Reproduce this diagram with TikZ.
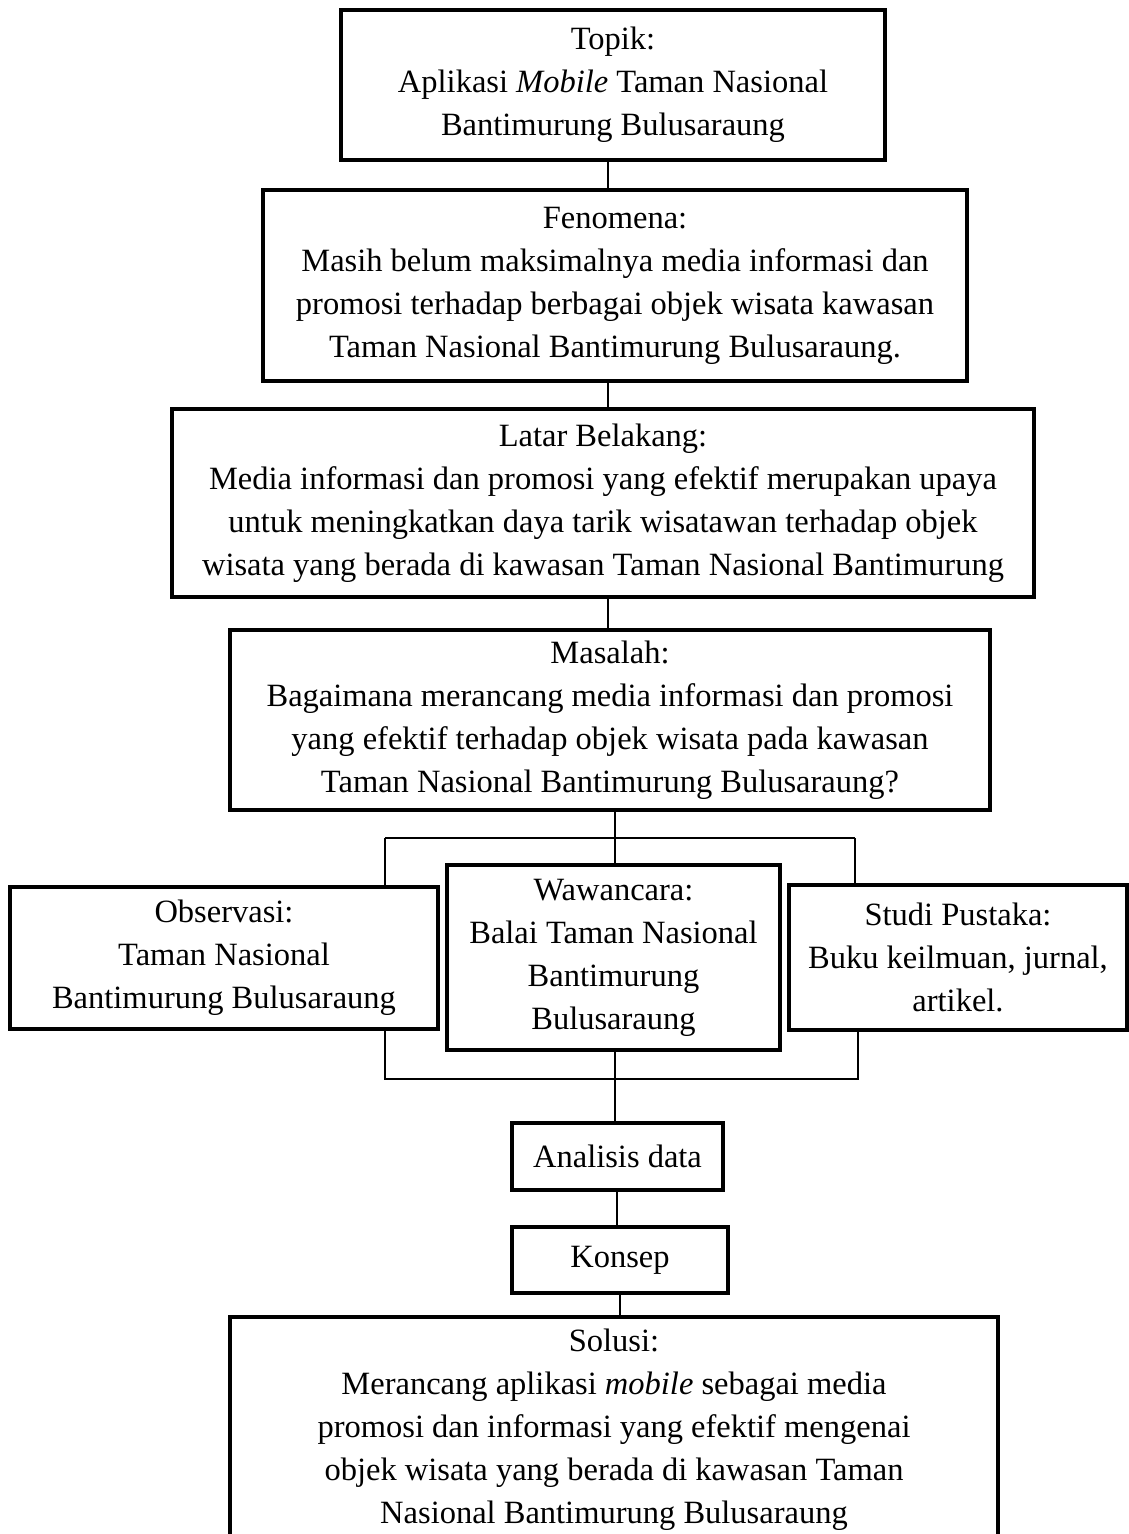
\documentclass[tikz,border=0pt]{standalone}
\usepackage{fontspec}
\setmainfont{Liberation Serif}
\begin{document}
\begin{tikzpicture}[x=1pt,y=-1pt,
  fbox/.style={draw=black, line width=4.5pt, align=center, inner sep=0pt,
    font=\fontsize{32.5}{43}\selectfont, fill=white},
  conn/.style={draw=black, line width=1.4pt}]
\fill[white] (0,0) rectangle (1129,1534);
\useasboundingbox (0,0) rectangle (1129,1534);

\node[fbox, minimum width=544pt, minimum height=150pt] (topik) at (613,85)
  {Topik:\\Aplikasi \textit{Mobile} Taman Nasional\\Bantimurung Bulusaraung};
\node[fbox, minimum width=704pt, minimum height=191pt] (fen) at (615,285.5)
  {Fenomena:\\Masih belum maksimalnya media informasi dan\\promosi terhadap berbagai objek wisata kawasan\\Taman Nasional Bantimurung Bulusaraung.};
\node[fbox, minimum width=862pt, minimum height=188pt] (latar) at (603,503)
  {Latar Belakang:\\Media informasi dan promosi yang efektif merupakan upaya\\untuk meningkatkan daya tarik wisatawan terhadap objek\\wisata yang berada di kawasan Taman Nasional Bantimurung};
\node[fbox, minimum width=760pt, minimum height=180pt] (masalah) at (610,720)
  {Masalah:\\Bagaimana merancang media informasi dan promosi\\yang efektif terhadap objek wisata pada kawasan\\Taman Nasional Bantimurung Bulusaraung?};
\node[fbox, minimum width=428pt, minimum height=142pt] (obs) at (224,958)
  {Observasi:\\Taman Nasional\\Bantimurung Bulusaraung};
\node[fbox, minimum width=333pt, minimum height=185pt] (waw) at (613.5,957.5)
  {Wawancara:\\Balai Taman Nasional\\Bantimurung\\Bulusaraung};
\node[fbox, minimum width=338pt, minimum height=145pt] (studi) at (958,957.5)
  {Studi Pustaka:\\Buku keilmuan, jurnal,\\artikel.};
\node[fbox, minimum width=211pt, minimum height=67pt] (analisis) at (617.5,1156.5)
  {Analisis data};
\node[fbox, minimum width=216pt, minimum height=66pt] (konsep) at (620,1260)
  {Konsep};
\node[fbox, minimum width=768pt, minimum height=226pt] (solusi) at (614,1430)
  {Solusi:\\Merancang aplikasi \textit{mobile} sebagai media\\promosi dan informasi yang efektif mengenai\\objek wisata yang berada di kawasan Taman\\Nasional Bantimurung Bulusaraung};

\coordinate (tA) at (608,0);
\draw[conn] (topik.south -| tA) -- (fen.north -| tA);
\draw[conn] (fen.south -| tA) -- (latar.north -| tA);
\draw[conn] (latar.south -| tA) -- (masalah.north -| tA);

\coordinate (jL) at (385,838);
\coordinate (jM) at (615,838);
\coordinate (jR) at (855,838);
\draw[conn] (masalah.south -| jM) -- (jM);
\draw[conn] (jL) -- (jR);
\draw[conn] (jL) -- (jL |- obs.north);
\draw[conn] (jM) -- (jM |- waw.north);
\draw[conn] (jR) -- (jR |- studi.north);

\coordinate (kL) at (385,1079);
\coordinate (kM) at (615,1079);
\coordinate (kR) at (858,1079);
\draw[conn] (obs.south -| kL) -- (kL) -- (kR) -- (studi.south -| kR);
\draw[conn] (waw.south -| kM) -- (kM) -- (analisis.north -| kM);

\coordinate (aK) at (617,0);
\coordinate (kS) at (620,0);
\draw[conn] (analisis.south -| aK) -- (konsep.north -| aK);
\draw[conn] (konsep.south -| kS) -- (solusi.north -| kS);
\end{tikzpicture}
\end{document}
